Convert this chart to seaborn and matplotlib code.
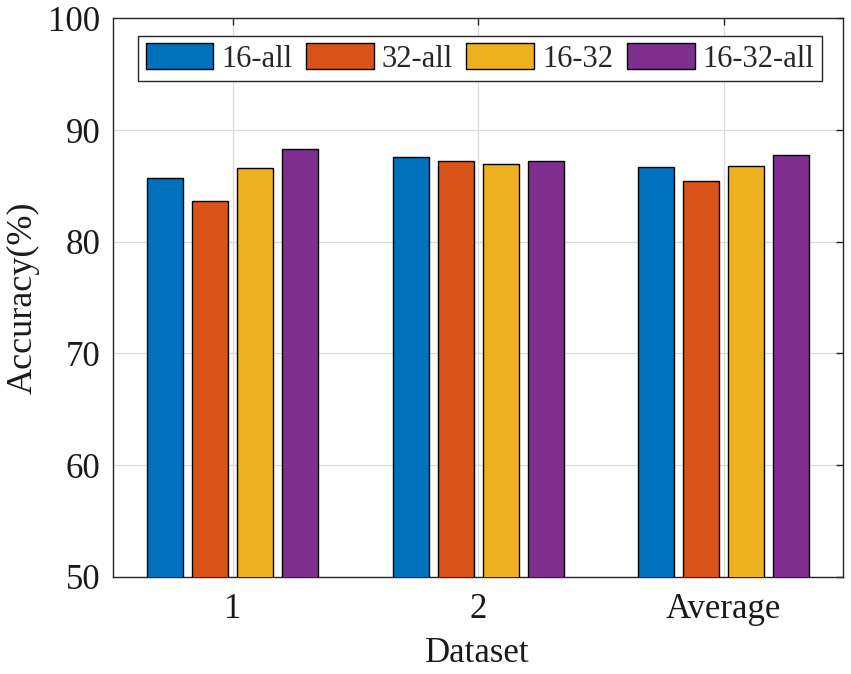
"""
plot.py
-------
Grouped bar chart of accuracy per dataset for four feature settings.
"""

import pandas as pd
import matplotlib.pyplot as plt
import seaborn as sns

# ---------------------------------------------------------------------------
# Data
# ---------------------------------------------------------------------------
datasets = ["1", "2", "Average"]
settings = ["16-all", "32-all", "16-32", "16-32-all"]
acc_16_all = [85.7, 87.6, 86.7]
acc_32_all = [83.6, 87.2, 85.4]
acc_16_32 = [86.6, 87.0, 86.8]
acc_16_32_all = [88.3, 87.2, 87.8]
colors = ["#0072BD", "#D95319", "#EDB120", "#7E2F8E"]

rows = []
for name, vals in zip(settings, [acc_16_all, acc_32_all, acc_16_32, acc_16_32_all]):
    for ds, v in zip(datasets, vals):
        rows.append({"Dataset": ds, "Setting": name, "Accuracy": v})
df = pd.DataFrame(rows)

# ---------------------------------------------------------------------------
# Plot
# ---------------------------------------------------------------------------
sns.set_theme(style="white")
plt.rcParams["font.family"] = ["Liberation Serif", "DejaVu Serif"]

fig = plt.figure(figsize=(8.51, 6.74), dpi=100)
ax = fig.add_axes([0.1324, 0.1444, 0.8579, 0.8284])

sns.barplot(
    data=df, x="Dataset", y="Accuracy", hue="Setting",
    order=datasets, hue_order=settings, palette=colors, saturation=1,
    width=0.733, gap=0.2, edgecolor="black", linewidth=1.0,
    ax=ax, zorder=3,
)

ax.set_ylim(50, 100)
ax.set_xlim(-0.49, 2.485)
ax.set_yticks([50, 60, 70, 80, 90, 100])
ax.grid(True, color="#dcdcdc", linewidth=0.9, zorder=0)
ax.set_axisbelow(True)

for side in ["left", "right", "top", "bottom"]:
    ax.spines[side].set_visible(True)
    ax.spines[side].set_color("#262626")
    ax.spines[side].set_linewidth(1.0)

ax.tick_params(axis="both", which="both", direction="in", length=5,
               width=1.0, color="#262626", top=True, right=True,
               labelsize=25, labelcolor="#1a1a1a")
ax.tick_params(axis="y", pad=9)
ax.tick_params(axis="x", pad=12)

ax.set_xlabel("Dataset", fontsize=25, color="#1a1a1a", labelpad=8)
ax.set_ylabel("Accuracy(%)", fontsize=26, color="#1a1a1a", labelpad=6)

leg = ax.legend(
    loc="upper left", bbox_to_anchor=(0.0347, 0.969), ncol=4,
    fontsize=22, frameon=True, fancybox=False, framealpha=1,
    edgecolor="#262626", handlelength=2.22, handleheight=0.92,
    handletextpad=0.25, columnspacing=0.45, borderpad=0.25,
    borderaxespad=0.0,
)
leg.get_frame().set_linewidth(1.0)

fig.savefig("out.png", dpi=100)
